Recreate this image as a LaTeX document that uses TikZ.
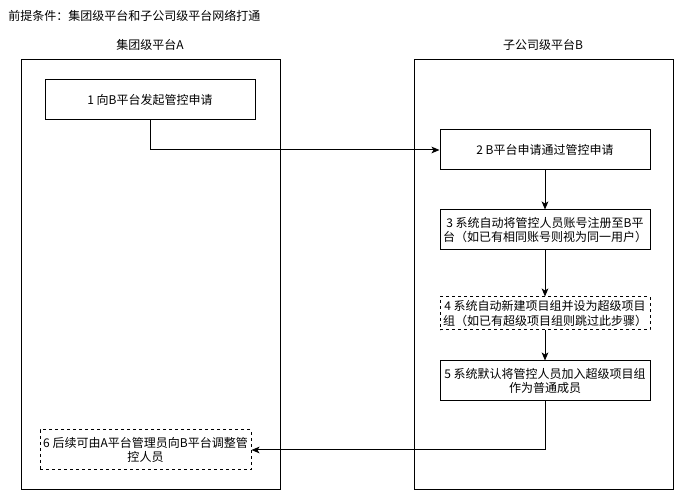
\documentclass[tikz,border=0pt]{standalone}
\usepackage{fontspec}
\setmainfont{Noto Sans CJK SC}
\usetikzlibrary{arrows.meta}
\begin{document}
\begin{tikzpicture}[x=0.75pt,y=-0.75pt,
  every node/.style={font=\fontsize{9pt}{11pt}\selectfont, inner sep=0pt},
  container/.style={draw, line width=0.75pt},
  stepbox/.style={draw, line width=0.75pt, align=center, minimum width=157.5pt, minimum height=30pt},
  optbox/.style={stepbox, dashed, dash pattern=on 2.25pt off 2.25pt},
  conn/.style={line width=0.75pt, -{Stealth[length=6pt,width=5pt,inset=1.5pt]}}
]
\useasboundingbox (0,0) rectangle (675,491);
\node[anchor=west] (title) at (8,16) {前提条件：集团级平台和子公司级平台网络打通};
\node (la) at (150,45) {集团级平台A};
\node (lb) at (543,45) {子公司级平台B};
\draw[container] (21,60) rectangle (280,490);
\draw[container] (414,60) rectangle (673,490);
\node[stepbox] (b1) at (150,100) {1 向B平台发起管控申请};
\node[stepbox] (b2) at (545,150) {2 B平台申请通过管控申请};
\node[stepbox] (b3) at (545,230) {3 系统自动将管控人员账号注册至B平\\台（如已有相同账号则视为同一用户）};
\node[optbox, minimum height=24.75pt] (b4) at (545,313.5) {4 系统自动新建项目组并设为超级项目\\组（如已有超级项目组则跳过此步骤）};
\node[stepbox] (b5) at (545,381) {5 系统默认将管控人员加入超级项目组\\作为普通成员};
\node[optbox, minimum width=158.25pt] (b6) at (145.5,450) {6 后续可由A平台管理员向B平台调整管\\控人员};
\draw[conn] (b1.south) |- (b2.west);
\draw[conn] (b2.south) -- (b3.north);
\draw[conn] (b3.south) -- (b4.north);
\draw[conn] (b4.south) -- (b5.north);
\draw[conn] (b5.south) |- (b6.east);
\end{tikzpicture}
\end{document}
